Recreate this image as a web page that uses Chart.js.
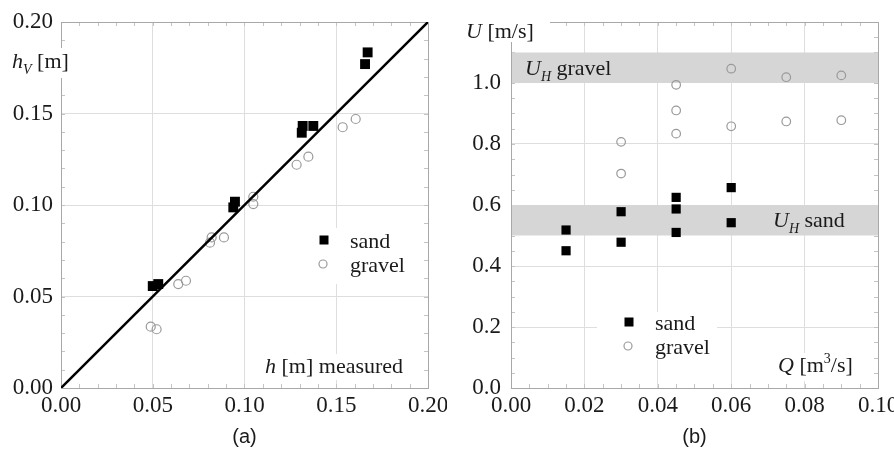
<!DOCTYPE html>
<html>
<head>
<meta charset="utf-8">
<script src="https://cdn.jsdelivr.net/npm/chart.js@4.4.1/dist/chart.umd.min.js"></script>
<style>
    html, body { margin: 0; padding: 0; background: #fff; }
    #wrap { position: relative; width: 894px; height: 451px; }
    canvas { position: absolute; top: 0; }
    #left { left: 0; }
    #right { left: 447px; }
</style>
</head>
<body>
<div id="wrap">
    <canvas id="left" width="447" height="451"></canvas>
    <canvas id="right" width="447" height="451"></canvas>
</div>
<script>
// (a) computed h_V against measured h
const sandH = [0.0500, 0.0530, 0.0939, 0.0948, 0.1312, 0.1317, 0.1375, 0.1657, 0.1671];
const sandHv = [0.0557, 0.0568, 0.0987, 0.1018, 0.1395, 0.1432, 0.1432, 0.1770, 0.1834];
const gravelH = [0.0489, 0.0521, 0.0639, 0.0681, 0.0812, 0.0821, 0.0888, 0.1048, 0.1048, 0.1284, 0.1348, 0.1535, 0.1606];
const gravelHv = [0.0335, 0.0321, 0.0568, 0.0586, 0.0794, 0.0823, 0.0823, 0.1005, 0.1045, 0.1220, 0.1264, 0.1425, 0.1470];
const lineH = [0, 0.2];
const lineHv = [0, 0.2];
const ticksA = [0, 0.05, 0.10, 0.15, 0.20];

// (b) velocity U against discharge Q
const sandQ = [0.015, 0.015, 0.03, 0.03, 0.045, 0.045, 0.045, 0.06, 0.06];
const sandU = [0.518, 0.450, 0.578, 0.478, 0.625, 0.587, 0.510, 0.657, 0.542];
const gravelQ = [0.03, 0.03, 0.045, 0.045, 0.045, 0.06, 0.06, 0.075, 0.075, 0.09, 0.09];
const gravelU = [0.807, 0.703, 0.994, 0.910, 0.834, 1.047, 0.858, 1.019, 0.874, 1.025, 0.878];
const bandSand = [0.5, 0.6];
const bandGravel = [1.0, 1.1];
const ticksQ = [0, 0.02, 0.04, 0.06, 0.08, 0.10];
const ticksU = [0, 0.2, 0.4, 0.6, 0.8, 1.0];

const serif = '"Liberation Serif", "Times New Roman", serif';
const sans = '"Liberation Sans", Arial, sans-serif';
const ink = '#1a1a1a';

const points = (xs, ys) => xs.map((x, i) => ({ x: x, y: ys[i] }));

// text made of pieces: italic, subscript, superscript
const rich = (ctx, x, y, parts, size) => {
    ctx.fillStyle = ink;
    ctx.textBaseline = 'alphabetic';
    ctx.textAlign = 'left';
    parts.forEach(p => {
        const s = (p.sub || p.sup) ? Math.round(size * 0.62) : size;
        ctx.font = (p.it ? 'italic ' : '') + s + 'px ' + serif;
        const dy = p.sub ? size * 0.28 : (p.sup ? -size * 0.4 : 0);
        ctx.fillText(p.t, x, y + dy);
        x += ctx.measureText(p.t).width;
    });
};

const whiteBox = (ctx, x, y, w, h) => {
    ctx.fillStyle = '#fff';
    ctx.fillRect(x, y, w, h);
};

const frameAndMinor = (chart, stepX, stepY) => {
    const ctx = chart.ctx;
    const a = chart.chartArea;
    const sx = chart.scales.x, sy = chart.scales.y;
    ctx.save();
    ctx.strokeStyle = '#c4c4c4';
    ctx.lineWidth = 1;
    ctx.beginPath();
    for (let v = sx.min; v <= sx.max + 1e-9; v += stepX) {
        const px = Math.round(sx.getPixelForValue(v)) + 0.5;
        ctx.moveTo(px, a.bottom); ctx.lineTo(px, a.bottom - 4);
        ctx.moveTo(px, a.top); ctx.lineTo(px, a.top + 4);
    }
    for (let v = sy.min; v <= sy.max + 1e-9; v += stepY) {
        const py = Math.round(sy.getPixelForValue(v)) + 0.5;
        ctx.moveTo(a.left, py); ctx.lineTo(a.left + 4, py);
        ctx.moveTo(a.right, py); ctx.lineTo(a.right - 4, py);
    }
    ctx.stroke();
    ctx.strokeStyle = '#a8a8a8';
    ctx.strokeRect(a.left + 0.5, a.top + 0.5, a.right - a.left, a.bottom - a.top);
    ctx.restore();
};

const legendBlock = (ctx, x, y, gap, size, sq, rad) => {
    ctx.save();
    ctx.fillStyle = '#000';
    ctx.fillRect(x - sq / 2, y - sq / 2, sq, sq);
    ctx.strokeStyle = '#9a9a9a';
    ctx.lineWidth = 1.2;
    ctx.beginPath();
    ctx.arc(x - 1, y + gap, rad, 0, Math.PI * 2);
    ctx.stroke();
    rich(ctx, x + 26, y + 8, [{ t: 'sand' }], size);
    rich(ctx, x + 26, y + gap + 8, [{ t: 'gravel' }], size);
    ctx.restore();
};

const tickFont = { family: serif, size: 23 };

// keep the end labels from shrinking the plot area
const noEdgePad = s => {
    s.paddingLeft = 0;
    s.paddingRight = 0;
    s.paddingTop = 0;
    s.paddingBottom = 0;
};

const axisBase = (min, max, ticks, digits, pad) => ({
    type: 'linear',
    min: min,
    max: max,
    afterBuildTicks: s => { s.ticks = ticks.map(v => ({ value: v })); },
    ticks: {
        font: tickFont,
        color: ink,
        padding: pad,
        maxRotation: 0,
        autoSkip: false,
        callback: v => v.toFixed(digits)
    },
    grid: { color: '#dedede', drawTicks: false, lineWidth: 1 },
    border: { color: '#a8a8a8' }
});

// ---------- chart (a)
const leftExtras = {
    id: 'leftExtras',
    beforeDatasetsDraw(chart) {
        frameAndMinor(chart, 0.01, 0.01);
    },
    afterDatasetsDraw(chart) {
        const ctx = chart.ctx;
        const a = chart.chartArea;
        ctx.save();
        whiteBox(ctx, a.left - 52, a.top + 26, 66, 30);
        rich(ctx, a.left - 49, a.top + 46, [{ t: 'h', it: true }, { t: 'V', it: true, sub: true }, { t: ' [m]' }], 22);
        whiteBox(ctx, a.left + 200, a.bottom - 34, 150, 26);
        rich(ctx, a.left + 204, a.bottom - 15, [{ t: 'h', it: true }, { t: ' [m] measured' }], 22);
        whiteBox(ctx, a.left + 250, a.top + 206, 100, 56);
        legendBlock(ctx, a.left + 263, a.top + 218, 24, 22, 9, 4);
        ctx.restore();
    }
};

new Chart(document.getElementById('left'), {
    type: 'scatter',
    data: {
        datasets: [{
            label: 'sand',
            data: points(sandH, sandHv),
            pointStyle: 'rect',
            pointRadius: 7,
            backgroundColor: '#000',
            borderColor: '#000',
            borderWidth: 0
        }, {
            label: 'line',
            data: points(lineH, lineHv),
            showLine: true,
            pointRadius: 0,
            borderColor: '#000',
            borderWidth: 2.5
        }, {
            label: 'gravel',
            data: points(gravelH, gravelHv),
            pointStyle: 'circle',
            pointRadius: 4.5,
            backgroundColor: 'rgba(255,255,255,0)',
            borderColor: '#9a9a9a',
            borderWidth: 1.2
        }]
    },
    options: {
        responsive: false,
        animation: false,
        events: [],
        layout: { padding: { top: 22, right: 19, left: 0, bottom: 0 } },
        plugins: { legend: { display: false }, tooltip: { enabled: false } },
        scales: {
            x: Object.assign(axisBase(0, 0.2, ticksA, 2, 4), {
                title: { display: true, text: '(a)', font: { family: sans, size: 20 }, color: ink, padding: { top: 0, bottom: 2 } },
                afterFit: s => { s.height = 63; noEdgePad(s); }
            }),
            y: Object.assign(axisBase(0, 0.2, ticksA, 2, 8), {
                afterFit: s => { s.width = 61; noEdgePad(s); }
            })
        }
    },
    plugins: [leftExtras]
});

// ---------- chart (b)
const rightExtras = {
    id: 'rightExtras',
    beforeDatasetsDraw(chart) {
        const ctx = chart.ctx;
        const a = chart.chartArea;
        const sy = chart.scales.y;
        frameAndMinor(chart, 0.005, 0.05);
        ctx.save();
        ctx.fillStyle = '#d6d6d6';
        [bandSand, bandGravel].forEach(b => {
            const top = sy.getPixelForValue(b[1]);
            const bot = sy.getPixelForValue(b[0]);
            ctx.fillRect(a.left + 1, top, a.right - a.left - 1, bot - top);
        });
        rich(ctx, a.left + 14, sy.getPixelForValue(1.05) + 7, [{ t: 'U', it: true }, { t: 'H', it: true, sub: true }, { t: ' gravel' }], 22);
        rich(ctx, a.left + 262, sy.getPixelForValue(0.55) + 7, [{ t: 'U', it: true }, { t: 'H', it: true, sub: true }, { t: ' sand' }], 22);
        ctx.restore();
    },
    afterDatasetsDraw(chart) {
        const ctx = chart.ctx;
        const a = chart.chartArea;
        ctx.save();
        whiteBox(ctx, a.left - 52, a.top - 8, 91, 28);
        rich(ctx, a.left - 45, a.top + 16, [{ t: 'U', it: true }, { t: ' [m/s]' }], 22);
        whiteBox(ctx, a.left + 86, a.bottom - 76, 120, 48);
        legendBlock(ctx, a.left + 118, a.bottom - 66, 24, 22, 9, 4);
        whiteBox(ctx, a.left + 262, a.bottom - 35, 98, 28);
        rich(ctx, a.left + 267, a.bottom - 16, [{ t: 'Q', it: true }, { t: ' [m' }, { t: '3', sup: true }, { t: '/s]' }], 22);
        ctx.restore();
    }
};

new Chart(document.getElementById('right'), {
    type: 'scatter',
    data: {
        datasets: [{
            label: 'sand',
            data: points(sandQ, sandU),
            pointStyle: 'rect',
            pointRadius: 6.5,
            backgroundColor: '#000',
            borderColor: '#000',
            borderWidth: 0
        }, {
            label: 'gravel',
            data: points(gravelQ, gravelU),
            pointStyle: 'circle',
            pointRadius: 4.3,
            backgroundColor: 'rgba(255,255,255,0)',
            borderColor: '#9a9a9a',
            borderWidth: 1.2
        }]
    },
    options: {
        responsive: false,
        animation: false,
        events: [],
        layout: { padding: { top: 22, right: 16, left: 0, bottom: 0 } },
        plugins: { legend: { display: false }, tooltip: { enabled: false } },
        scales: {
            x: Object.assign(axisBase(0, 0.1, ticksQ, 2, 4), {
                title: { display: true, text: '(b)', font: { family: sans, size: 20 }, color: ink, padding: { top: 0, bottom: 2 } },
                afterFit: s => { s.height = 63; noEdgePad(s); }
            }),
            y: Object.assign(axisBase(0, 1.2, ticksU, 1, 10), {
                afterFit: s => { s.width = 64; noEdgePad(s); }
            })
        }
    },
    plugins: [rightExtras]
});
</script>
</body>
</html>
